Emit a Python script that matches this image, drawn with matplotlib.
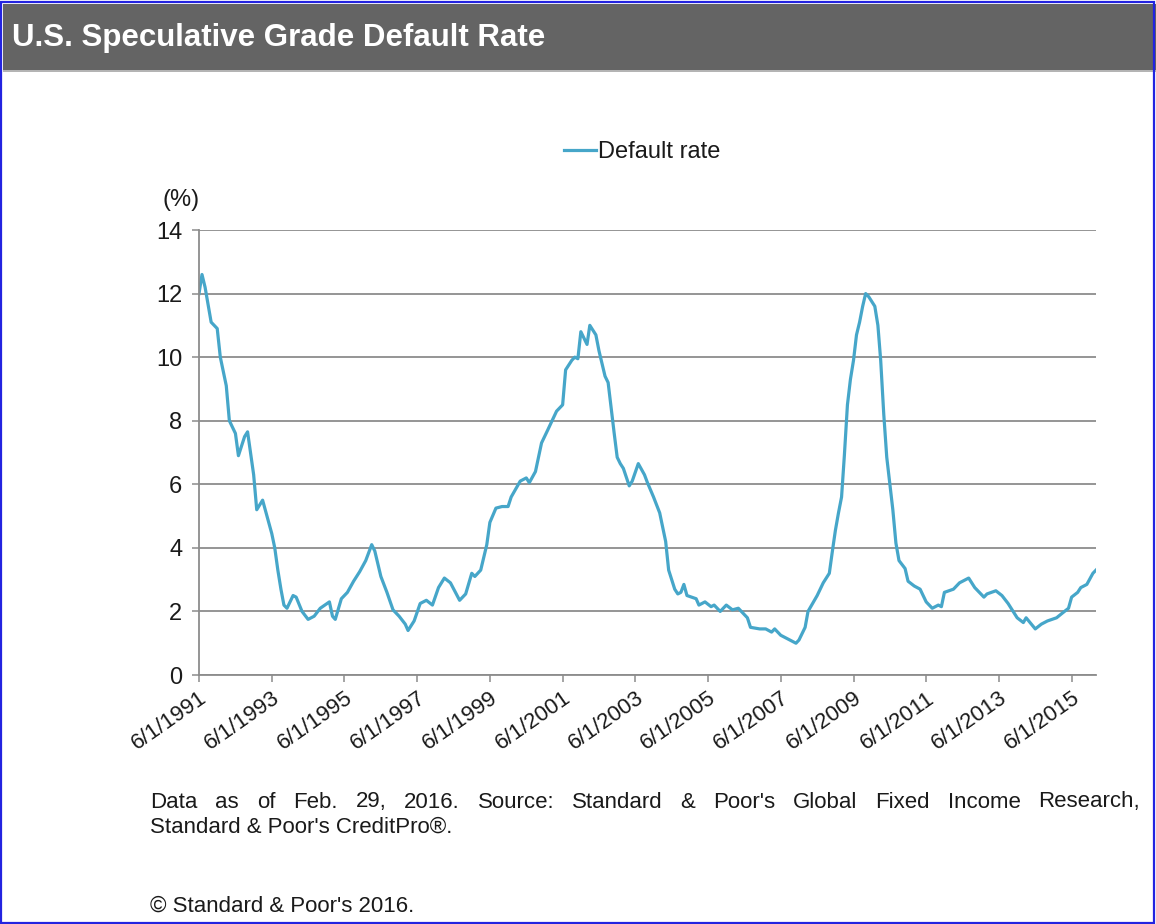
import matplotlib
matplotlib.use("Agg")
import matplotlib.pyplot as plt
import pandas as pd
from matplotlib.patches import Rectangle

W, H = 1156, 924

# --- data: months after Jun 1991 and default rate (%) ---
month_offsets = [
    0, 1, 2, 4, 6, 7, 9, 10, 12, 13, 15, 16, 18, 19, 21, 23, 24, 25, 26, 27,
    28, 29, 31, 32, 34, 36, 38, 40, 43, 44, 45, 47, 49, 51, 53, 55, 57, 58, 60, 62,
    64, 66, 68, 69, 71, 73, 75, 77, 79, 81, 83, 86, 88, 90, 91, 93, 95, 96, 98, 100,
    102, 103, 106, 108, 109, 111, 113, 115, 118, 120, 121, 123, 124, 125, 126, 127, 128, 129, 131, 132,
    134, 135, 136, 137, 138, 139, 140, 142, 143, 145, 147, 148, 150, 152, 154, 155, 157, 158, 159, 160,
    161, 164, 165, 167, 169, 170, 172, 174, 176, 178, 181, 182, 185, 187, 189, 190, 192, 193, 195, 197,
    198, 200, 201, 204, 206, 208, 209, 210, 211, 212, 213, 214, 215, 216, 217, 218, 219, 220, 221, 223,
    224, 225, 226, 227, 228, 229, 230, 231, 233, 234, 236, 238, 240, 242, 244, 245, 246, 249, 251, 254,
    256, 259, 260, 263, 265, 267, 268, 270, 272, 273, 276, 278, 280, 283, 285, 287, 288, 290, 291, 293,
    295, 296,
]
default_rate = [
    12.0, 12.6, 12.2, 11.1, 10.9, 10.0, 9.1, 8.0, 7.6, 6.9, 7.5, 7.65, 6.3, 5.2, 5.5, 4.8, 4.45, 4.0, 3.3, 2.7,
    2.2, 2.1, 2.5, 2.45, 2.0, 1.75, 1.85, 2.1, 2.3, 1.85, 1.75, 2.4, 2.6, 2.95, 3.25, 3.6, 4.1, 3.9, 3.1, 2.6,
    2.05, 1.85, 1.6, 1.4, 1.7, 2.25, 2.35, 2.2, 2.75, 3.05, 2.9, 2.35, 2.55, 3.2, 3.1, 3.3, 4.1, 4.8, 5.25, 5.3,
    5.3, 5.6, 6.1, 6.2, 6.05, 6.4, 7.3, 7.7, 8.3, 8.5, 9.6, 9.9, 10.0, 9.95, 10.8, 10.6, 10.4, 11.0, 10.7, 10.2,
    9.4, 9.2, 8.4, 7.6, 6.85, 6.65, 6.5, 5.95, 6.1, 6.65, 6.3, 6.05, 5.6, 5.1, 4.2, 3.3, 2.7, 2.55, 2.6, 2.85,
    2.5, 2.4, 2.2, 2.3, 2.15, 2.2, 2.0, 2.2, 2.05, 2.1, 1.8, 1.5, 1.45, 1.45, 1.35, 1.45, 1.25, 1.2, 1.1, 1.0,
    1.1, 1.5, 2.0, 2.5, 2.9, 3.2, 3.9, 4.55, 5.1, 5.6, 6.9, 8.5, 9.3, 9.9, 10.7, 11.1, 11.6, 12.0, 11.9, 11.6,
    11.0, 9.9, 8.2, 6.85, 6.0, 5.2, 4.15, 3.6, 3.35, 2.95, 2.8, 2.7, 2.3, 2.1, 2.2, 2.15, 2.6, 2.7, 2.9, 3.05,
    2.75, 2.45, 2.55, 2.65, 2.5, 2.25, 2.1, 1.8, 1.65, 1.8, 1.45, 1.6, 1.7, 1.8, 1.95, 2.1, 2.45, 2.6, 2.75, 2.85,
    3.2, 3.3,
]
tick_labels = ["6/1/1991", "6/1/1993", "6/1/1995", "6/1/1997", "6/1/1999", "6/1/2001",
               "6/1/2003", "6/1/2005", "6/1/2007", "6/1/2009", "6/1/2011", "6/1/2013", "6/1/2015"]
y_ticks = [0, 2, 4, 6, 8, 10, 12, 14]

start = pd.Timestamp("1991-06-01")
dates = [start + pd.DateOffset(months=m) for m in month_offsets]
tick_pos = pd.to_datetime(tick_labels, format="%m/%d/%Y")

plt.rcParams["font.family"] = ["Liberation Sans", "DejaVu Sans"]

fig = plt.figure(figsize=(W / 100, H / 100), dpi=100)
fig.patch.set_facecolor("white")

# header bar and frame
fig.add_artist(Rectangle((3 / W, 1 - 70 / H), 1, 66 / H, transform=fig.transFigure,
                         facecolor="#646464", edgecolor="none"))
fig.add_artist(Rectangle((3 / W, 1 - 72 / H), 1, 2 / H, transform=fig.transFigure,
                         facecolor="#b4b4b4", edgecolor="none"))
fig.add_artist(Rectangle((1 / W, 1 / H), 1 - 3 / W, 1 - 3 / H, transform=fig.transFigure,
                         facecolor="none", edgecolor="#2323e0", linewidth=1.6))
fig.text(12 / W, 1 - 38 / H, "U.S. Speculative Grade Default Rate", color="white",
         fontsize=22.5, fontweight="bold", va="center", ha="left")

ax = fig.add_axes([199 / W, 1 - 675 / H, (1096 - 199) / W, (675 - 230) / H])
line, = ax.plot(dates, default_rate, color="#46a6c9", linewidth=2.3, label="Default rate")

ax.set_ylim(0, 14)
ax.set_yticks(y_ticks)
ax.set_xlim(start, start + pd.DateOffset(months=296))
ax.set_xticks(tick_pos)
ax.set_xticklabels(tick_labels, rotation=35, ha="right", rotation_mode="anchor")
ax.tick_params(axis="both", colors="#8c8c8c", labelcolor="#1a1a1a",
               length=5, width=1.1, direction="out")
ax.tick_params(axis="y", labelsize=17, pad=7)
ax.tick_params(axis="x", labelsize=16, pad=4)
ax.grid(axis="y", color="#8c8c8c", linewidth=1.3)
ax.set_axisbelow(True)
for side in ["top", "right"]:
    ax.spines[side].set_visible(False)
for side in ["left", "bottom"]:
    ax.spines[side].set_color("#8c8c8c")
    ax.spines[side].set_linewidth(1.3)

fig.text(162 / W, 1 - 200 / H, "(%)", fontsize=17, ha="left", va="center", color="#1a1a1a")
fig.legend(handles=[line], loc="center", bbox_to_anchor=(642 / W, 1 - 152 / H),
           frameon=False, fontsize=17, handlelength=1.35, handletextpad=0.1,
           labelcolor="#1a1a1a")


def justified(text, x0, x1, y, **kw):
    words = text.split(" ")
    r = fig.canvas.get_renderer()
    arts = [fig.text(0, 1 - y / H, w, va="center", ha="left", **kw) for w in words]
    widths = [a.get_window_extent(r).width for a in arts]
    gap = (x1 - x0 - sum(widths)) / (len(words) - 1)
    x = x0
    for a, w in zip(arts, widths):
        a.set_x(x / W)
        x += w + gap


note_kw = dict(fontsize=16, color="#1a1a1a")
justified("Data as of Feb. 29, 2016. Source: Standard & Poor's Global Fixed Income Research,",
          150, 1140, 802, **note_kw)
fig.text(150 / W, 1 - 827 / H, "Standard & Poor's CreditPro®.", va="center", **note_kw)
fig.text(150 / W, 1 - 906 / H, "© Standard & Poor's 2016.", va="center", **note_kw)

fig.savefig("out.png", dpi=100)
